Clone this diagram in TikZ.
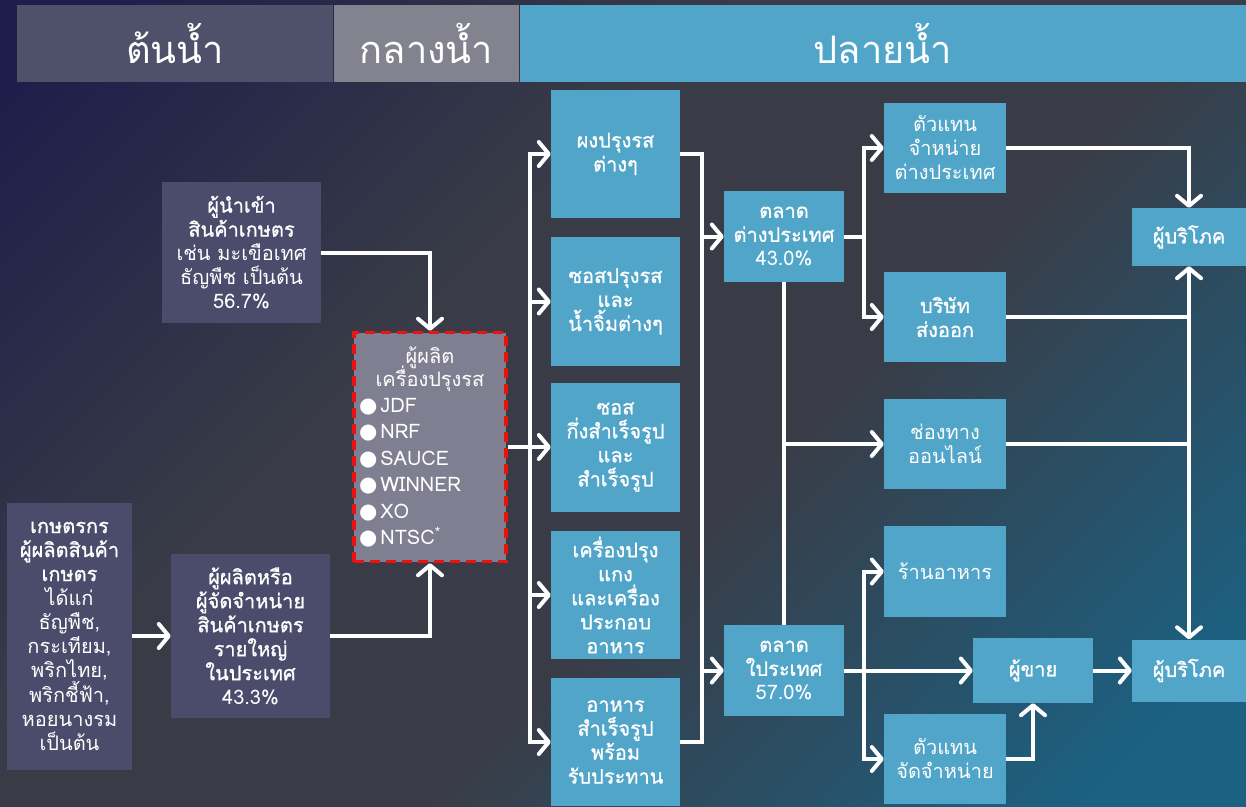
\documentclass[tikz,border=0pt]{standalone}
\usepackage{fontspec}
\setmainfont[Script=Thai]{Loma}
\newfontfamily\md[Script=Thai,FakeBold=1.0]{Loma}
\newfontfamily\dejavu{DejaVu Sans}
\usetikzlibrary{arrows.meta}
\definecolor{bgA}{HTML}{1E1E4A}
\definecolor{bgB}{HTML}{393C47}
\definecolor{bgC}{HTML}{1B6182}
\definecolor{slate}{HTML}{4B4B6C}
\definecolor{hdrA}{HTML}{4F5069}
\definecolor{hdrB}{HTML}{83838F}
\definecolor{blu}{HTML}{50A5C8}
\definecolor{mfrfill}{HTML}{7F7F91}
\definecolor{dashred}{HTML}{F01010}
\pgfdeclareverticalshading{bgshade}{100bp}{color(0bp)=(bgC); color(20bp)=(bgC);
  color(43bp)=(bgB); color(60bp)=(bgB); color(82bp)=(bgA); color(100bp)=(bgA)}
\newcommand{\bul}{{\dejavu\fontsize{21}{20}\selectfont ●}\hspace{3pt}}
\begin{document}
\begin{tikzpicture}[x=1pt,y=-1pt,
  box/.style={rectangle, inner sep=0pt, align=center, text=white,
    font=\fontsize{20}{24}\selectfont},
  sbox/.style={box, fill=slate},
  bbox/.style={box, fill=blu},
  hdr/.style={rectangle, inner sep=0pt, text=white, minimum height=77pt,
    font=\fontsize{38}{40}\selectfont},
  ln/.style={draw=white, line width=4pt},
  arr/.style={ln, -{Straight Barb[length=10pt,width=24pt,round]}}]
\useasboundingbox (0,0) rectangle (1246,806);
\shade[shading=bgshade, shading angle=45] (0,0) rectangle (1246,806);

% headers
\node[hdr, fill=hdrA, minimum width=316pt] (h1) at (175,43.5) {ต้นน้ำ};
\node[hdr, fill=hdrB, minimum width=185pt] (h2) at (426.5,43.5) {กลางน้ำ};
\node[hdr, fill=blu, minimum width=726pt] (h3) at (883,43.5) {ปลายน้ำ};

% upstream
\node[sbox, minimum width=159pt, minimum height=141pt] (imp) at (241.5,252.5)
  {{\md ผู้นำเข้า}\\{\md สินค้าเกษตร}\\เช่น มะเขือเทศ\\ธัญพืช เป็นต้น\\56.7\%};
\node[sbox, minimum width=125pt, minimum height=267pt] (farm) at (69.5,636)
  {{\md เกษตรกร}\\{\md ผู้ผลิตสินค้า}\\{\md เกษตร}\\ได้แก่\\ธัญพืช,\\กระเทียม,\\พริกไทย,\\พริกชี้ฟ้า,\\หอยนางรม\\เป็นต้น};
\node[sbox, minimum width=159pt, minimum height=164pt] (prod) at (250.5,636)
  {{\md ผู้ผลิตหรือ}\\{\md ผู้จัดจำหน่าย}\\{\md สินค้าเกษตร}\\{\md รายใหญ่}\\{\md ในประเทศ}\\43.3\%};

% midstream
\node[box, fill=mfrfill, draw=dashred, line width=3.5pt, dash pattern=on 10pt off 6pt,
  minimum width=152pt, minimum height=229pt, text width=142pt, align=left,
  font=\fontsize{20}{26.5}\selectfont] (mfr) at (430,447)
  {\makebox[\linewidth][c]{ผู้ผลิต}\\[-3pt]\makebox[\linewidth][c]{เครื่องปรุงรส}\\[-1pt]
   \bul JDF\\\bul NRF\\\bul SAUCE\\\bul WINNER\\\bul XO\\\bul NTSC\textsuperscript{*}};

% products
\node[bbox, minimum width=129pt, minimum height=128pt] (m1) at (615.5,154) {\md ผงปรุงรส\\\md ต่างๆ};
\node[bbox, minimum width=129pt, minimum height=129pt] (m2) at (615.5,301.5) {\md ซอสปรุงรส\\\md และ\\\md น้ำจิ้มต่างๆ};
\node[bbox, minimum width=129pt, minimum height=129pt] (m3) at (615.5,447) {\md ซอส\\\md กึ่งสำเร็จรูป\\\md และ\\\md สำเร็จรูป};
\node[bbox, minimum width=129pt, minimum height=128pt] (m4) at (615.5,595) {\md เครื่องปรุง\\\md แกง\\\md และเครื่อง\\\md ประกอบ\\\md อาหาร};
\node[bbox, minimum width=129pt, minimum height=128pt] (m5) at (615.5,742) {\md อาหาร\\\md สำเร็จรูป\\\md พร้อม\\\md รับประทาน};

% downstream
\node[bbox, minimum width=120pt, minimum height=91pt] (fm) at (784,236.5) {\md ตลาด\\\md ต่างประเทศ\\43.0\%};
\node[bbox, minimum width=120pt, minimum height=91pt] (dm) at (784,670.5) {\md ตลาด\\\md ใประเทศ\\57.0\%};
\node[bbox, minimum width=122pt, minimum height=90pt] (a1) at (945,148) {ตัวแทน\\จำหน่าย\\ต่างประเทศ};
\node[bbox, minimum width=122pt, minimum height=90pt] (a2) at (945,317) {\md บริษัท\\\md ส่งออก};
\node[bbox, minimum width=122pt, minimum height=90pt] (a3) at (945,444) {ช่องทาง\\ออนไลน์};
\node[bbox, minimum width=122pt, minimum height=91pt] (a4) at (945,571.5) {ร้านอาหาร};
\node[bbox, minimum width=122pt, minimum height=90pt] (a5) at (945,759) {ตัวแทน\\จัดจำหน่าย};
\node[bbox, minimum width=120pt, minimum height=65pt] (seller) at (1033,670.5) {\md ผู้ขาย};
\node[bbox, minimum width=114pt, minimum height=58pt] (c1) at (1189,237) {\md ผู้บริโภค};
\node[bbox, minimum width=114pt, minimum height=62pt] (c2) at (1189,670.5) {\md ผู้บริโภค};

% connectors
\coordinate (jL) at (530,447);
\coordinate (jR) at (702,0);
\coordinate (jF) at (864,0);

\draw[arr] (imp.east) -| (mfr.north);
\draw[arr] (farm.east) -- (prod.west);
\draw[arr] (prod.east) -| (mfr.south);

\draw[ln] (mfr.east) -- (jL);
\draw[arr] (jL) |- (m1.west);
\draw[arr] (jL) |- (m2.west);
\draw[arr] (jL) -- (m3.west);
\draw[arr] (jL) |- (m4.west);
\draw[arr] (jL) |- (m5.west);

\draw[ln] (m1.east) -| (jR |- m5.east) -- (m5.east);
\draw[arr] (jR |- fm.west) -- (fm.west);
\draw[arr] (jR |- dm.west) -- (dm.west);

\draw[ln] (fm.south) -- (dm.north);
\draw[arr] (fm.south |- a3.west) -- (a3.west);

\draw[arr] (fm.east) -- (jF |- fm.east) |- (a1.west);
\draw[arr] (fm.east) -- (jF |- fm.east) |- (a2.west);
\draw[arr] (dm.east) -- (seller.west);
\draw[arr] (dm.east) -- (jF |- dm.east) |- (a4.west);
\draw[arr] (dm.east) -- (jF |- dm.east) |- (a5.west);
\draw[arr] (a5.east) -| (seller.south);
\draw[arr] (seller.east) -- (c2.west);

\draw[arr] (a1.east) -| (c1.north);
\draw[arr] (a2.east) -| (c1.south);
\draw[arr] (a3.east) -| (c2.north);
\draw[ln] (c1.south |- a2.east) -- (c1.south |- a3.east);
\end{tikzpicture}
\end{document}
